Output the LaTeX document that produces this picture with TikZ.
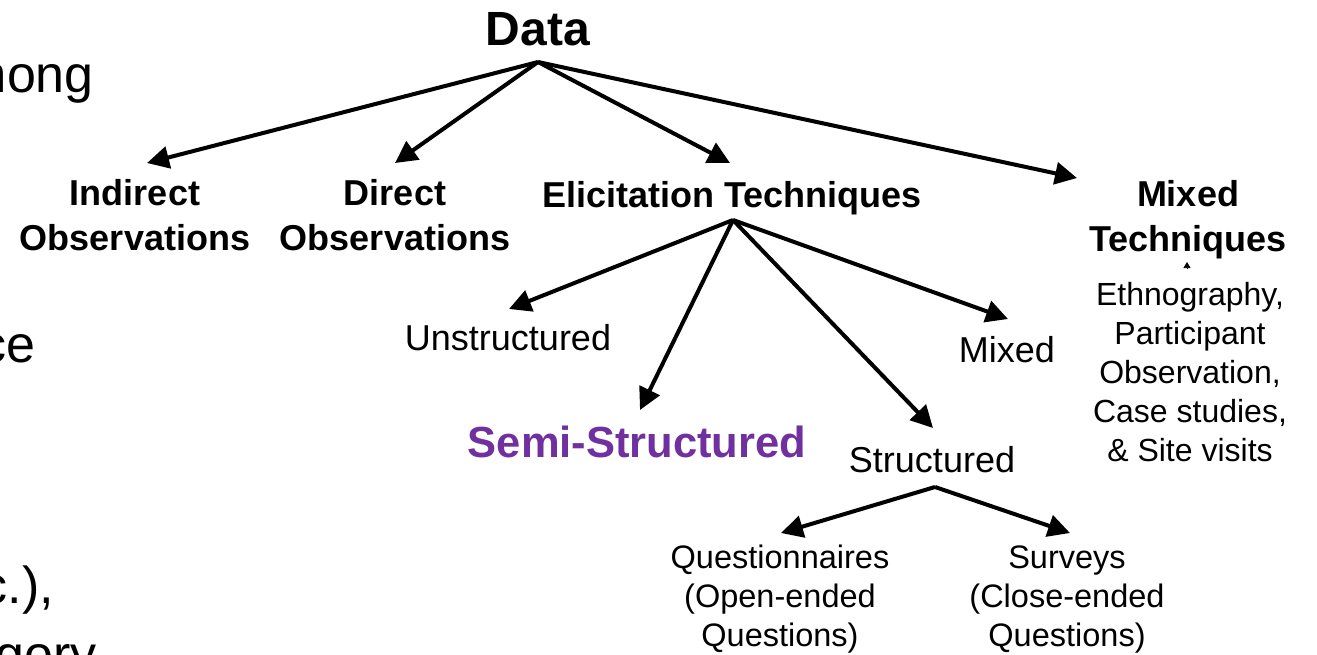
\documentclass[tikz,border=0pt]{standalone}
\usepackage{fontspec}
\setmainfont{Liberation Sans}
\usetikzlibrary{arrows.meta,calc}
\definecolor{ppurple}{HTML}{7030A0}
\begin{document}
\begin{tikzpicture}[x=1pt,y=-1pt,
  lbl/.style={inner sep=0pt,anchor=base,align=center},
  boldbig/.style={lbl,font=\fontsize{36}{45}\selectfont\bfseries},
  reg/.style={lbl,font=\fontsize{36}{42}\selectfont},
  small/.style={lbl,font=\fontsize{32.5}{39}\selectfont},
  cut/.style={inner sep=0pt,anchor=base east,font=\fontsize{52}{60}\selectfont},
  arr/.style={line width=4pt,-{Triangle[length=22pt,width=22pt]}},
  tiny/.style={line width=0.6pt,-{Triangle[length=6pt,width=7pt]}}]
\useasboundingbox (0,0) rectangle (1317,654);
\clip (0,0) rectangle (1317,654);
% cut-off slide text at the left
\node[cut] (c1) at (94,92) {among};
\node[cut] (c2) at (36,362) {evidence};
\node[cut] (c3) at (54,603) {etc.),};
\node[cut] (c4) at (97,672) {category};
% nodes (base = baseline of the last line)
\node[lbl,font=\fontsize{48}{52}\selectfont\bfseries] (data) at (538,45) {Data};
\node[boldbig] (ind) at (135,250) {Indirect\\Observations};
\node[boldbig] (dir) at (395,250) {Direct\\Observations};
\node[boldbig] (eli) at (732,207) {Elicitation Techniques};
\node[boldbig] (mixT) at (1188,251) {Mixed\\Techniques};
\node[reg] (uns) at (508,350) {Unstructured};
\node[lbl,font=\fontsize{43.5}{48}\selectfont\bfseries,text=ppurple] (semi) at (637,457) {Semi-Structured};
\node[reg] (mixed) at (1007,362) {Mixed};
\node[reg] (str) at (932,472) {Structured};
\node[small] (que) at (780,646) {Questionnaires\\(Open-ended\\Questions)};
\node[small] (sur) at (1067,646) {Surveys\\(Close-ended\\Questions)};
\node[small,font=\fontsize{32}{39}\selectfont] (rt) at (1190,461) {Ethnography,\\Participant\\Observation,\\Case studies,\\\& Site visits};
% connectors
\draw[arr] ($(data.base)+(0,17)$) -- ($(ind.base)+(12,-87)$);
\draw[arr] ($(data.base)+(0,17)$) -- ($(dir.base)+(0,-87)$);
\draw[arr] ($(data.base)+(0,17)$) -- ($(eli.base)+(-2,-44)$);
\draw[arr] ($(data.base)+(0,17)$) -- ($(mixT.base)+(-111,-73)$);
\draw[arr] ($(eli.base)+(1,13)$) -- ($(uns.base)+(1,-41)$);
\draw[arr] ($(eli.base)+(1,13)$) -- ($(semi.base)+(3,-47)$);
\draw[arr] ($(eli.base)+(1,13)$) -- ($(str.base)+(1,-44)$);
\draw[arr] ($(eli.base)+(1,13)$) -- ($(mixed.base)+(1,-43)$);
\draw[arr] ($(str.base)+(3,15)$) -- ($(que.base)+(1,-113)$);
\draw[arr] ($(str.base)+(3,15)$) -- ($(sur.base)+(3,-113)$);
\draw[tiny] ($(rt.base)+(-3,-193)$) -- ($(rt.base)+(-3,-199)$);
\end{tikzpicture}
\end{document}
